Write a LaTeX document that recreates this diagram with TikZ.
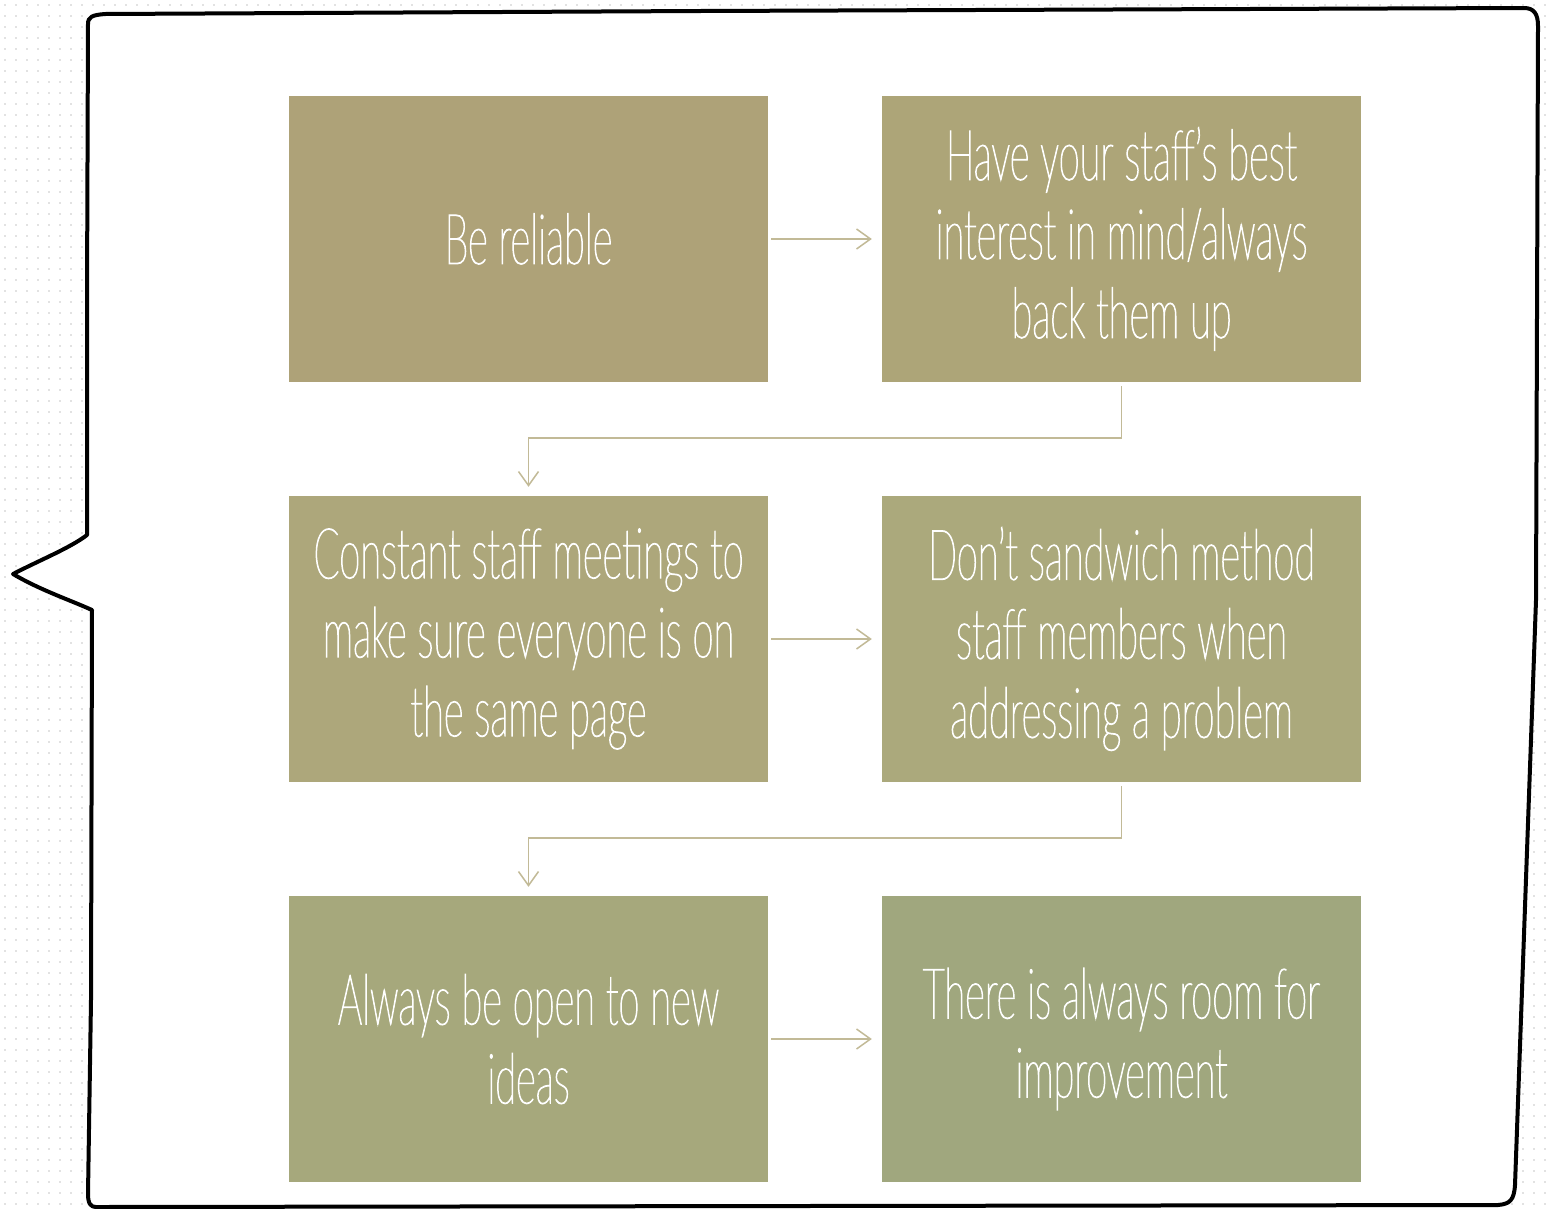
\documentclass[tikz,border=0pt]{standalone}
\usepackage{fontspec}
\setmainfont{Lato Hairline}[FakeStretch=0.545, FakeBold=1.5]
\usetikzlibrary{arrows.meta}
\definecolor{dotc}{HTML}{E2E2E2}
\definecolor{cA}{HTML}{AEA278}
\definecolor{cB}{HTML}{ADA578}
\definecolor{cC}{HTML}{ADA77B}
\definecolor{cD}{HTML}{ABA97C}
\definecolor{cE}{HTML}{A6A87C}
\definecolor{cF}{HTML}{A0A77E}
\definecolor{connc}{HTML}{C2BA97}
\tikzset{
  boxst/.style={minimum width=479pt, minimum height=286pt, inner sep=0pt, text=white, align=center, font=\fontsize{70}{79}\selectfont},
  conn/.style={draw=connc, line width=1.5pt, -{Straight Barb[length=14pt,width=20pt,line width=1.5pt]}},
}
\begin{document}
\begin{tikzpicture}[x=1pt,y=-1pt]
\useasboundingbox (0,0) rectangle (1555,1208);
\foreach \yy in {5,16,...,1205} \draw[dotc, line width=2pt, dash pattern=on 2pt off 9pt] (4,\yy) -- (1555,\yy);
\draw[line width=4pt, fill=white, line join=round]
  (87,535) -- (87,300) -- (88,24) .. controls (88,17) and (92,15) .. (105,14)
  -- (700,11) -- (1524,8) .. controls (1534,8) and (1538,14) .. (1538,26)
  -- (1536,600) -- (1515,1185) .. controls (1514,1200) and (1510,1204) .. (1498,1205)
  -- (96,1207) .. controls (91,1207) and (88,1204) .. (88,1194)
  -- (91,1000) -- (92,610) .. controls (70,600) and (40,590) .. (13,574)
  .. controls (40,560) and (70,548) .. (87,535) -- cycle;
\node[boxst, fill=cA] (b1) at (528.5,239) {Be reliable};
\node[boxst, fill=cB] (b2) at (1121.5,239) {Have your staff's best\\interest in mind/always\\back them up};
\node[boxst, fill=cC] (b3) at (528.5,639) {Constant staff meetings to\\make sure everyone is on\\the same page};
\node[boxst, fill=cD] (b4) at (1121.5,639) {Don't sandwich method\\staff members when\\addressing a problem};
\node[boxst, fill=cE] (b5) at (528.5,1039) {Always be open to new\\ideas};
\node[boxst, fill=cF] (b6) at (1121.5,1039) {There is always room for\\improvement};
\draw[conn, shorten <=3pt, shorten >=10pt] (b1) -- (b2);
\draw[conn, shorten <=3pt, shorten >=10pt] (b3) -- (b4);
\draw[conn, shorten <=3pt, shorten >=10pt] (b5) -- (b6);
\draw[conn, shorten <=4pt, shorten >=9pt] (b2.south) -- ++(0,56) -| (b3.north);
\draw[conn, shorten <=4pt, shorten >=9pt] (b4.south) -- ++(0,56) -| (b5.north);
\end{tikzpicture}
\end{document}
